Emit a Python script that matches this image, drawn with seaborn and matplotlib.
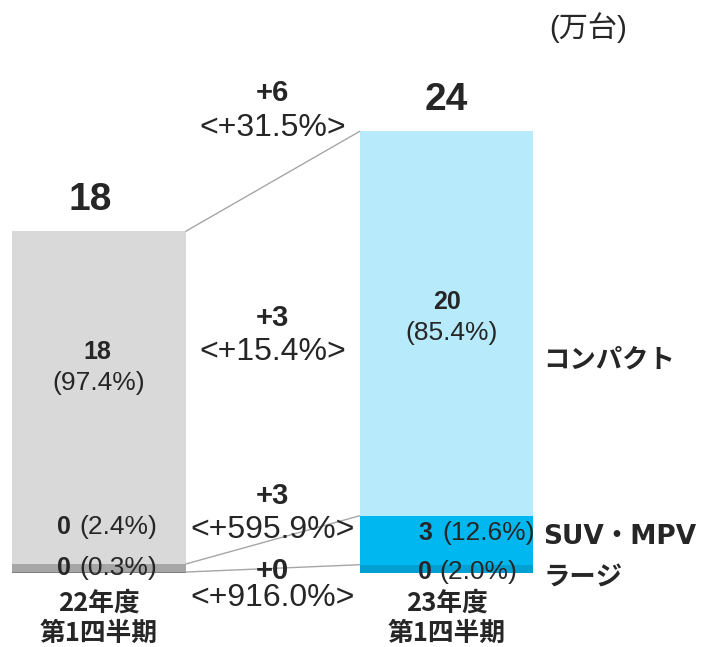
import matplotlib
matplotlib.use("Agg")
import matplotlib.pyplot as plt
import numpy as np
import seaborn as sns

# 販売台数（万台）
periods = ["22年度\n第1四半期", "23年度\n第1四半期"]
compact = [17.33, 20.02]
suv_mpv = [0.42, 2.55]
large = [0.05, 0.43]

totals_lbl = ["18", "24"]
compact_lbl = [("18", "(97.4%)"), ("20", "(85.4%)")]
suv_lbl = [("0", "(2.4%)"), ("3", "(12.6%)")]
large_lbl = [("0", "(0.3%)"), ("0", "(2.0%)")]
delta_lbl = [("+6", "<+31.5%>"), ("+3", "<+15.4%>"), ("+3", "<+595.9%>"), ("+0", "<+916.0%>")]
segments = ["コンパクト", "SUV・MPV", "ラージ"]

compact_cols = ["#d9d9d9", "#b7ebfc"]
suv_cols = ["#a6a6a6", "#00b7f0"]
large_cols = ["#7f7f7f", "#00a0d2"]

sns.set_theme(style="white")
plt.rcParams["font.family"] = ["Liberation Sans", "Noto Sans CJK JP"]
JP = ["Noto Sans CJK JP", "DejaVu Sans"]
JP_LATIN = ["DejaVu Sans", "Noto Sans CJK JP"]

c = np.array(compact)
s = np.array(suv_mpv)
l = np.array(large)
top = c + s + l
mid = s + l

fig = plt.figure(figsize=(7.03, 6.47), dpi=100)
ax = fig.add_axes([0, 0.1144, 1, 0.8856])

# 積み上げ（上から重ねて描く）
for vals, cols in [(top, compact_cols), (mid, suv_cols), (l, large_cols)]:
    sns.barplot(x=periods, y=vals, hue=periods, palette=cols, width=0.5,
                saturation=1, legend=False, ax=ax, edgecolor="none", linewidth=0)

# 接続線
for ys in [top, mid, l]:
    ax.plot([0.25, 0.75], ys, color="#a6a6a6", lw=1, zorder=1)

ax.set_xlim(-0.285, 1.738)
ax.set_ylim(0, 29.84)
ax.set_yticks([])
ax.set_ylabel("")
sns.despine(ax=ax, left=True, bottom=True)
ax.set_xticks([0, 1])
ax.set_xticklabels(periods, fontsize=18.5, fontweight="bold", family=JP, linespacing=1.15)
ax.tick_params(axis="x", length=0, pad=12)

# 合計
ax.text(-0.025, top[0] + 1.65, totals_lbl[0], ha="center", va="center", fontsize=28, fontweight="bold")
ax.text(1.0, top[1] + 1.65, totals_lbl[1], ha="center", va="center", fontsize=28, fontweight="bold")

# 棒内ラベル
ax.text(-0.005, 11.51, compact_lbl[0][0], ha="center", va="center", fontsize=18, fontweight="bold")
ax.text(0.0, 9.90, compact_lbl[0][1], ha="center", va="center", fontsize=19)
ax.text(1.0, 14.11, compact_lbl[1][0], ha="center", va="center", fontsize=18, fontweight="bold")
ax.text(1.015, 12.50, compact_lbl[1][1], ha="center", va="center", fontsize=19)

for (num, pct), y, xr, xl in [(suv_lbl[0], 2.40, -0.081, -0.057),
                              (large_lbl[0], 0.26, -0.081, -0.057),
                              (suv_lbl[1], 2.08, 0.958, 0.988),
                              (large_lbl[1], 0.05, 0.958, 0.980)]:
    ax.text(xr, y, num, ha="right", va="center", fontsize=18, fontweight="bold")
    ax.text(xl, y, pct, ha="left", va="center", fontsize=19)

# 増減
for (d, p), y1, y2 in zip(delta_lbl, [25.0, 13.28, 4.01, 0.10], [23.18, 11.51, 2.24, -1.30]):
    ax.text(0.5, y1, d, ha="center", va="center", fontsize=21, fontweight="bold")
    ax.text(0.5, y2, p, ha="center", va="center", fontsize=23)

# 区分名
ax.text(1.278, 11.09, segments[0], ha="left", va="center", fontsize=19, fontweight="bold", family=JP)
ax.text(1.278, 1.875, segments[1], ha="left", va="center", fontsize=19, fontweight="bold", family=JP_LATIN)
ax.text(1.278, -0.21, segments[2], ha="left", va="center", fontsize=19, fontweight="bold", family=JP)

ax.text(1.407, 28.39, "(万台)", ha="center", va="center", fontsize=21,
        family=["Liberation Sans", "Noto Sans CJK JP"])

fig.savefig("out.png", dpi=100)
